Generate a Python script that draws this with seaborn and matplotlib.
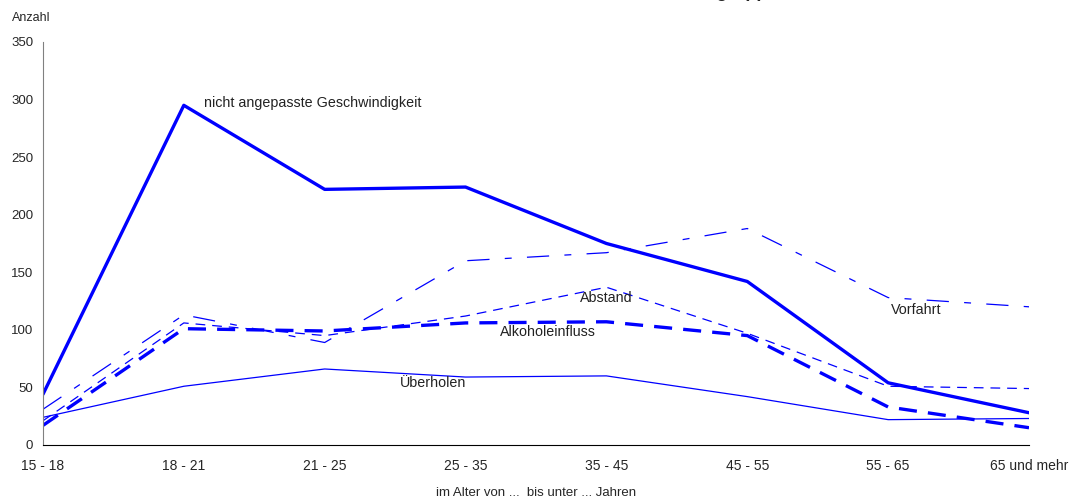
import pandas as pd
import matplotlib
matplotlib.use("Agg")
import matplotlib.pyplot as plt
import seaborn as sns

# Age groups on the x axis
age_groups = ["15 - 18", "18 - 21", "21 - 25", "25 - 35", "35 - 45", "45 - 55", "55 - 65", "65 und mehr"]

# Values per cause
geschwindigkeit = [44, 295, 222, 224, 175, 142, 54, 28]
vorfahrt = [31, 113, 89, 160, 167, 188, 128, 120]
abstand = [21, 106, 95, 112, 137, 97, 51, 49]
alkohol = [17, 101, 99, 106, 107, 95, 33, 15]
ueberholen = [24, 51, 66, 59, 60, 42, 22, 23]

series = {
    "nicht angepasste Geschwindigkeit": geschwindigkeit,
    "Vorfahrt": vorfahrt,
    "Abstand": abstand,
    "Alkoholeinfluss": alkohol,
    "Überholen": ueberholen,
}

rows = []
for name, vals in series.items():
    for i, v in enumerate(vals):
        rows.append({"Ursache": name, "pos": i, "Anzahl": v})
df = pd.DataFrame(rows)

sns.set_style("white")
plt.rcParams["font.family"] = ["Liberation Sans", "DejaVu Sans"]
plt.rcParams["lines.scale_dashes"] = False

# line styles: (linewidth, linestyle)
styles = {
    "nicht angepasste Geschwindigkeit": (2.4, "-"),
    "Vorfahrt": (0.9, (0, (16, 11, 5, 11))),
    "Abstand": (0.9, (0, (7, 5))),
    "Alkoholeinfluss": (2.4, (0, (13, 8))),
    "Überholen": (0.9, "-"),
}

fig = plt.figure(figsize=(10.71, 5.04), dpi=100)
ax = fig.add_axes([0.0401, 0.1171, 0.9207, 0.7996])

for name in series:
    lw, ls = styles[name]
    sub = df[df["Ursache"] == name]
    sns.lineplot(data=sub, x="pos", y="Anzahl", ax=ax, color="#0000ff",
                 linewidth=lw, linestyle=ls, legend=False)

ax.set_xlim(0, 7)
ax.set_ylim(0, 350)
ax.set_yticks(range(0, 351, 50))
ax.set_xticks(range(len(age_groups)))
ax.set_xticklabels(age_groups)
ax.set_xlabel("")
ax.set_ylabel("")

for s in ["top", "right"]:
    ax.spines[s].set_visible(False)
ax.spines["left"].set_color("#808080")
ax.spines["bottom"].set_color("#000000")
ax.tick_params(axis="both", direction="out", length=3, width=0.8, labelsize=9.5, pad=4)
ax.tick_params(axis="y", color="#000000")
ax.tick_params(axis="x", pad=7, labelsize=10)

# inline labels
lab = dict(fontsize=10.3, va="center", color="#222222")
ax.text(1.143, 297, "nicht angepasste Geschwindigkeit", **lab)
ax.text(3.81, 128, "Abstand", **lab)
ax.text(3.245, 98, "Alkoholeinfluss", **lab)
ax.text(2.534, 54, "Überholen", **lab)
ax.text(6.02, 117, "Vorfahrt", **lab)

fig.text(12 / 1071, 1 - 18 / 504, "Anzahl", fontsize=9, va="center", ha="left")
fig.text(536 / 1071, 1 - 493 / 504, "im Alter von ...  bis unter ... Jahren", fontsize=9.5,
         va="center", ha="center")

# title sits mostly above the top edge in the reference, only descenders show
fig.text(788 / 1071, 1 + 3 / 504, "Unfallursachen nach Altersgruppen", fontsize=13,
         fontweight="bold", ha="right", va="baseline")

fig.savefig("out.png", dpi=100)
